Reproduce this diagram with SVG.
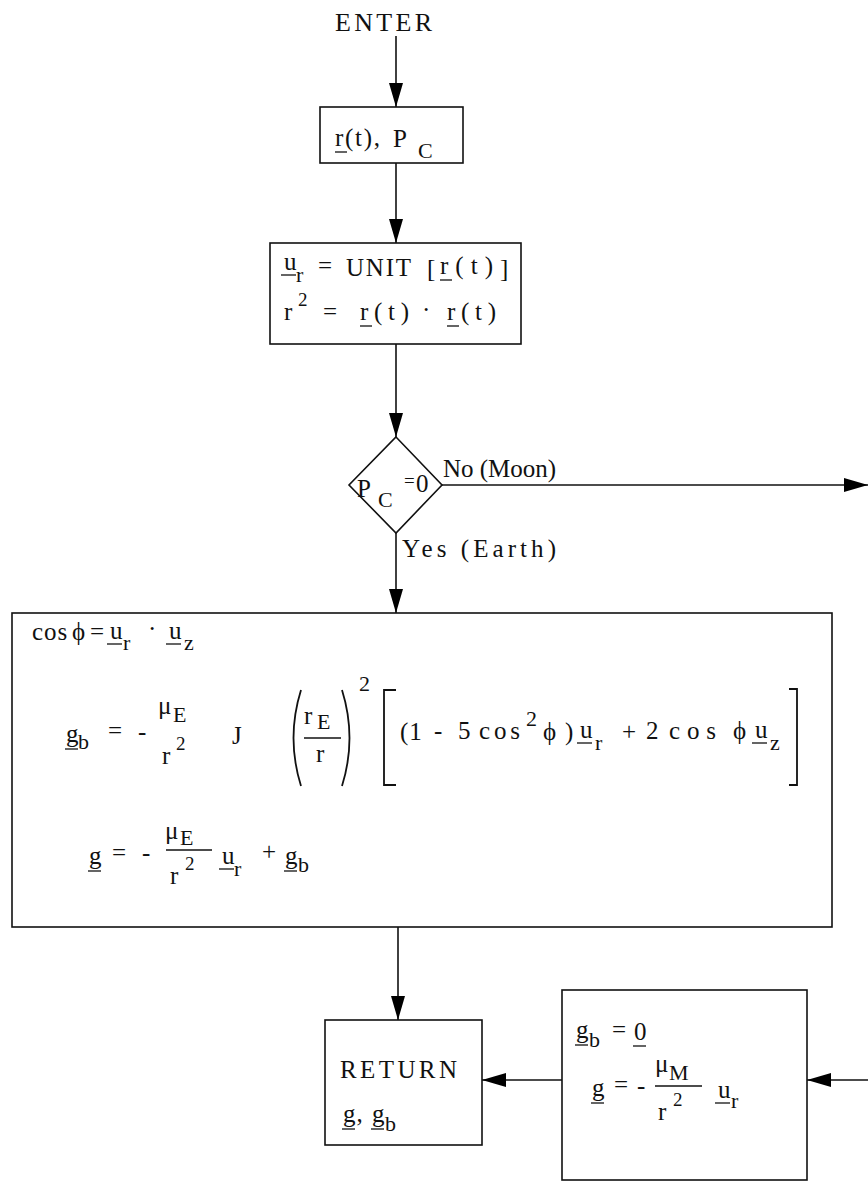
<svg xmlns="http://www.w3.org/2000/svg" width="868" height="1186" viewBox="0 0 868 1186">
<defs>
<marker id="ah" markerUnits="userSpaceOnUse" markerWidth="24" markerHeight="14" refX="24" refY="7" orient="auto">
<path d="M0,0 L24,7 L0,14 z" fill="#000"/>
</marker>
<style>
.t{font-family:"Liberation Serif",serif;font-size:25px;fill:#111;letter-spacing:1px}
.s{font-family:"Liberation Serif",serif;font-size:22px;fill:#111}
.p{font-family:"Liberation Serif",serif;font-size:19px;fill:#111}
.box{fill:#fff;stroke:#111;stroke-width:1.6}
.ln{fill:none;stroke:#111;stroke-width:1.6}
.ul{stroke:#111;stroke-width:1.3}
.br{fill:none;stroke:#111;stroke-width:1.8}
</style>
</defs>
<rect width="868" height="1186" fill="#fff"/>

<g id="connectors">
<line class="ln" x1="396" y1="36" x2="396" y2="107" marker-end="url(#ah)"/>
<line class="ln" x1="396" y1="163" x2="396" y2="243" marker-end="url(#ah)"/>
<line class="ln" x1="396" y1="344" x2="396" y2="437" marker-end="url(#ah)"/>
<line class="ln" x1="396" y1="533" x2="396" y2="613" marker-end="url(#ah)"/>
<line class="ln" x1="442" y1="485" x2="868" y2="485" marker-end="url(#ah)"/>
<line class="ln" x1="398" y1="927" x2="398" y2="1020" marker-end="url(#ah)"/>
<line class="ln" x1="868" y1="1080" x2="807" y2="1080" marker-end="url(#ah)"/>
<line class="ln" x1="562" y1="1080" x2="482" y2="1080" marker-end="url(#ah)"/>
<text class="t" x="443" y="477" textLength="114">No (Moon)</text>
<text class="t" x="402" y="557" textLength="155">Yes (Earth)</text>
</g>

<g id="enter">
<text class="t" x="335" y="31" textLength="98" style="font-size:26px">ENTER</text>
</g>

<g id="inputs">
<rect class="box" x="320" y="107" width="143" height="56"/>
<text class="t" x="335" y="146" textLength="46">r(t),</text>
<line class="ul" x1="335" y1="152" x2="347" y2="152"/>
<text class="t" x="393" y="147">P</text>
<text class="s" x="418" y="158">C</text>
</g>

<g id="unit">
<rect class="box" x="270" y="243" width="251" height="101"/>
<text class="t" x="284" y="270">u</text>
<line class="ul" x1="281" y1="275" x2="296" y2="275"/>
<text class="s" x="296" y="282">r</text>
<text class="t" x="318" y="274">=</text>
<text class="t" x="346" y="276" textLength="66">UNIT</text>
<text class="t" x="427" y="277">[</text>
<text class="t" x="440" y="274" textLength="54">r(t)</text>
<line class="ul" x1="440" y1="280" x2="452" y2="280"/>
<text class="t" x="500" y="277">]</text>
<text class="t" x="284" y="320">r</text>
<text class="p" x="298" y="306">2</text>
<text class="t" x="323" y="320">=</text>
<text class="t" x="360" y="320" textLength="50">r(t)</text>
<line class="ul" x1="360" y1="326" x2="372" y2="326"/>
<text class="t" x="422" y="318">·</text>
<text class="t" x="447" y="320" textLength="50">r(t)</text>
<line class="ul" x1="447" y1="326" x2="459" y2="326"/>
</g>

<g id="decision">
<polygon class="box" points="396,437 442,485 396,533 349,485"/>
<text class="t" x="357" y="497">P</text>
<text class="s" x="378" y="507">C</text>
<text class="p" x="404" y="487">=</text>
<text class="t" x="416" y="492">0</text>
</g>

<g id="earth">
<rect class="box" x="12" y="613" width="820" height="314"/>
<text class="t" x="32" y="640">cos</text>
<text class="t" x="72" y="640">ϕ</text>
<text class="t" x="90" y="640">=</text>
<text class="t" x="110" y="639">u</text>
<line class="ul" x1="107" y1="644" x2="122" y2="644"/>
<text class="s" x="123" y="650">r</text>
<text class="t" x="148" y="637">·</text>
<text class="t" x="169" y="639">u</text>
<line class="ul" x1="166" y1="644" x2="181" y2="644"/>
<text class="s" x="184" y="650">z</text>

<text class="t" x="66" y="742">g</text>
<line class="ul" x1="65" y1="749" x2="78" y2="749"/>
<text class="s" x="78" y="749">b</text>
<text class="t" x="108" y="739">=</text>
<text class="t" x="138" y="740">-</text>
<text class="t" x="158" y="714">μ</text>
<text class="s" x="173" y="722">E</text>
<text class="t" x="162" y="764">r</text>
<text class="p" x="176" y="750">2</text>
<text class="t" x="232" y="744">J</text>
<path class="br" d="M301,690 Q286,738 301,786"/>
<path class="br" d="M342,690 Q357,738 342,786"/>
<text class="t" x="304" y="724">r</text>
<text class="s" x="317" y="729">E</text>
<line class="ln" x1="304" y1="738" x2="341" y2="738"/>
<text class="t" x="316" y="762">r</text>
<text class="s" x="359" y="691">2</text>
<path class="br" d="M396,690 L384,690 L384,785 L396,785"/>
<text class="t" x="400" y="740">(1</text>
<text class="t" x="434" y="739">-</text>
<text class="t" x="458" y="739">5</text>
<text class="t" x="479" y="739" textLength="42">cos</text>
<text class="s" x="526" y="726">2</text>
<text class="t" x="543" y="740">ϕ</text>
<text class="t" x="565" y="740">)</text>
<text class="t" x="580" y="738">u</text>
<line class="ul" x1="577" y1="743" x2="592" y2="743"/>
<text class="s" x="595" y="750">r</text>
<text class="t" x="622" y="740">+</text>
<text class="t" x="646" y="739">2</text>
<text class="t" x="669" y="739" textLength="48">cos</text>
<text class="t" x="733" y="739">ϕ</text>
<text class="t" x="755" y="738">u</text>
<line class="ul" x1="752" y1="743" x2="767" y2="743"/>
<text class="s" x="770" y="750">z</text>
<path class="br" d="M789,689 L797,689 L797,785 L789,785"/>

<text class="t" x="89" y="864">g</text>
<line class="ul" x1="88" y1="871" x2="101" y2="871"/>
<text class="t" x="112" y="861">=</text>
<text class="t" x="142" y="861">-</text>
<text class="t" x="165" y="839">μ</text>
<text class="s" x="180" y="845">E</text>
<line class="ln" x1="166" y1="850" x2="212" y2="850"/>
<text class="t" x="170" y="884">r</text>
<text class="p" x="185" y="870">2</text>
<text class="t" x="222" y="864">u</text>
<line class="ul" x1="219" y1="869" x2="234" y2="869"/>
<text class="s" x="234" y="876">r</text>
<text class="t" x="262" y="860">+</text>
<text class="t" x="285" y="864">g</text>
<line class="ul" x1="284" y1="871" x2="297" y2="871"/>
<text class="s" x="298" y="872">b</text>
</g>

<g id="return">
<rect class="box" x="325" y="1020" width="157" height="125"/>
<text class="t" x="340" y="1078" textLength="118">RETURN</text>
<text class="t" x="343" y="1122">g,</text>
<line class="ul" x1="342" y1="1129" x2="355" y2="1129"/>
<text class="t" x="372" y="1122">g</text>
<line class="ul" x1="371" y1="1129" x2="384" y2="1129"/>
<text class="s" x="385" y="1131">b</text>
</g>

<g id="moon">
<rect class="box" x="562" y="990" width="245" height="190"/>
<text class="t" x="576" y="1038">g</text>
<line class="ul" x1="575" y1="1045" x2="588" y2="1045"/>
<text class="s" x="589" y="1047">b</text>
<text class="t" x="612" y="1038">=</text>
<text class="t" x="634" y="1040">0</text>
<line class="ul" x1="633" y1="1046" x2="646" y2="1046"/>
<text class="t" x="592" y="1096">g</text>
<line class="ul" x1="591" y1="1103" x2="604" y2="1103"/>
<text class="t" x="614" y="1093">=</text>
<text class="t" x="637" y="1094">-</text>
<text class="t" x="655" y="1072">μ</text>
<text class="s" x="669" y="1080">M</text>
<line class="ln" x1="655" y1="1086" x2="702" y2="1086"/>
<text class="t" x="658" y="1120">r</text>
<text class="p" x="673" y="1106">2</text>
<text class="t" x="718" y="1098">u</text>
<line class="ul" x1="715" y1="1103" x2="730" y2="1103"/>
<text class="s" x="731" y="1108">r</text>
</g>
</svg>
